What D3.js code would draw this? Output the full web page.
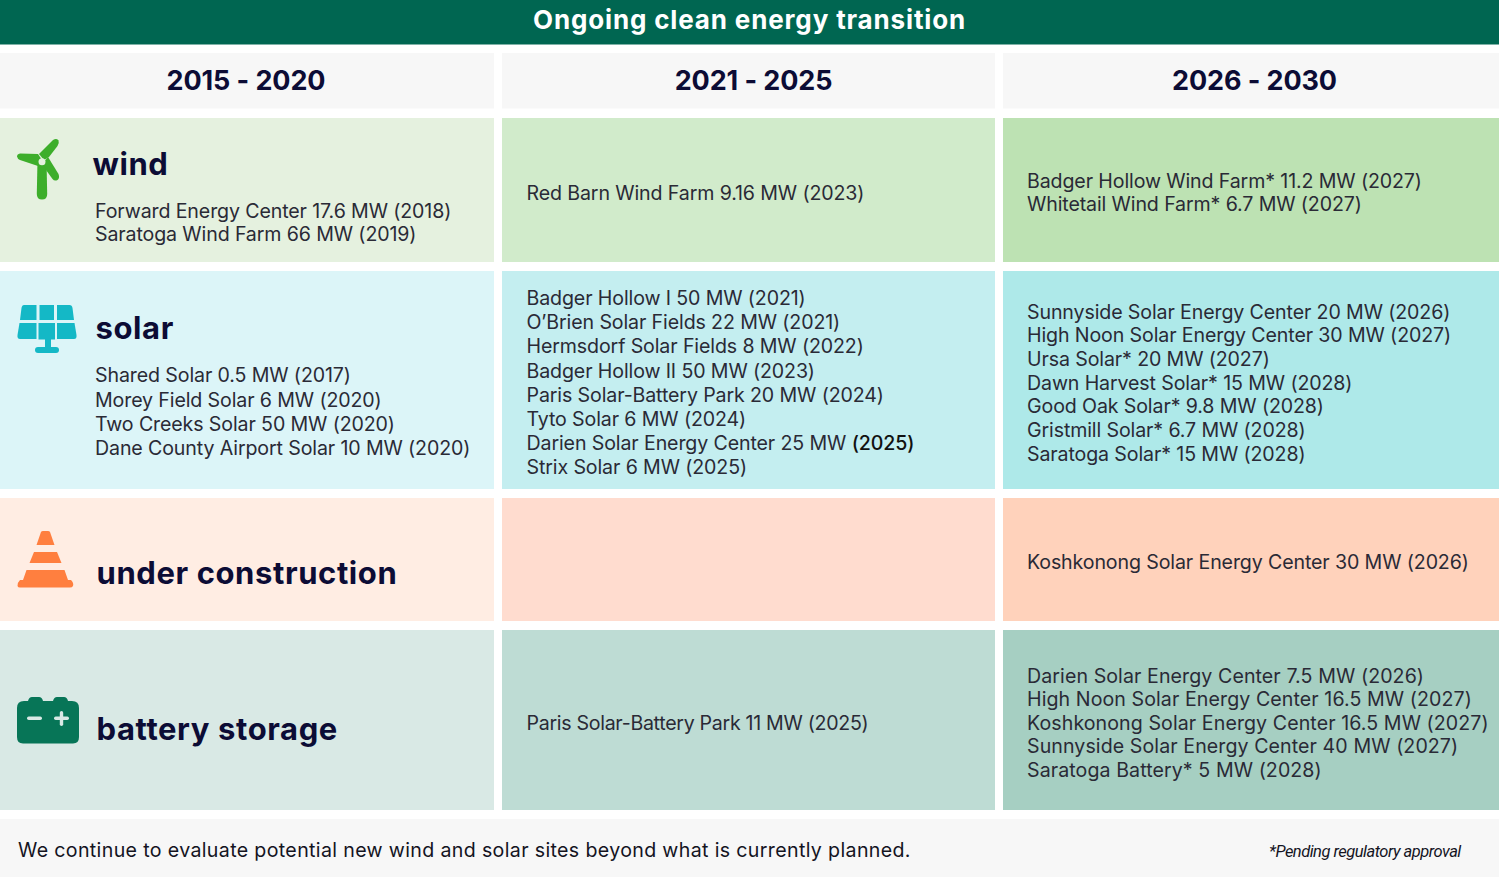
<!DOCTYPE html>
<html><head><meta charset="utf-8">
<script src="https://cdn.jsdelivr.net/npm/d3@7"></script>
<style>html,body{margin:0;padding:0;background:#fff}svg{display:block}text{font-family:Inter,"Noto Sans",sans-serif}</style>
</head><body><svg id="c" width="1499" height="877"></svg>
<script>
const title = "Ongoing clean energy transition";
const periods = ["2015 - 2020","2021 - 2025","2026 - 2030"];
const categories = ["wind","solar","under construction","battery storage"];
const windProjects = [
  ["Forward Energy Center 17.6 MW (2018)","Saratoga Wind Farm 66 MW (2019)"],
  ["Red Barn Wind Farm 9.16 MW (2023)"],
  ["Badger Hollow Wind Farm* 11.2 MW (2027)","Whitetail Wind Farm* 6.7 MW (2027)"]];
const solarProjects = [
  ["Shared Solar 0.5 MW (2017)","Morey Field Solar 6 MW (2020)","Two Creeks Solar 50 MW (2020)","Dane County Airport Solar 10 MW (2020)"],
  ["Badger Hollow I 50 MW (2021)","O’Brien Solar Fields 22 MW (2021)","Hermsdorf Solar Fields 8 MW (2022)","Badger Hollow II 50 MW (2023)","Paris Solar-Battery Park 20 MW (2024)","Tyto Solar 6 MW (2024)","Darien Solar Energy Center 25 MW (2025)","Strix Solar 6 MW (2025)"],
  ["Sunnyside Solar Energy Center 20 MW (2026)","High Noon Solar Energy Center 30 MW (2027)","Ursa Solar* 20 MW (2027)","Dawn Harvest Solar* 15 MW (2028)","Good Oak Solar* 9.8 MW (2028)","Gristmill Solar* 6.7 MW (2028)","Saratoga Solar* 15 MW (2028)"]];
const constructionProjects = [[],[],["Koshkonong Solar Energy Center 30 MW (2026)"]];
const batteryProjects = [[],["Paris Solar-Battery Park 11 MW (2025)"],
  ["Darien Solar Energy Center 7.5 MW (2026)","High Noon Solar Energy Center 16.5 MW (2027)","Koshkonong Solar Energy Center 16.5 MW (2027)","Sunnyside Solar Energy Center 40 MW (2027)","Saratoga Battery* 5 MW (2028)"]];
const footNote = "We continue to evaluate potential new wind and solar sites beyond what is currently planned.";
const pendingNote = "*Pending regulatory approval";
const projects = [windProjects, solarProjects, constructionProjects, batteryProjects];

const W=1499,H=877;
const svg=d3.select("#c");
const colEdges=[[0,494],[502,995],[1003,1499]];
const rowEdges=[[118,262],[271,489],[498,621],[630,810]];
const xL=d3.scaleOrdinal(periods,colEdges.map(d=>d[0]));
const xR=d3.scaleOrdinal(periods,colEdges.map(d=>d[1]));
const yT=d3.scaleOrdinal(categories,rowEdges.map(d=>d[0]));
const yB=d3.scaleOrdinal(categories,rowEdges.map(d=>d[1]));
const fills=d3.scaleOrdinal(categories,[["#e5f1df","#d1ebcb","#bde2b3"],["#dcf5f8","#c4eef0","#aee9e9"],["#ffede3","#ffdccf","#ffd2bb"],["#d9e9e5","#bedcd4","#a6cfc2"]]);
const INK="#0c0c35",BODY="#2a2a36";
const BODY_SIZE=19.6,BODY_LS=-0.12;
const colLine=[24.3,24.1,23.7];
const headCentre=[246,753.5,1254.5];

svg.append("rect").attr("width",W).attr("height",44.5).attr("fill","#006651");
svg.append("text").attr("x",749.5).attr("y",29).attr("text-anchor","middle").attr("fill","#fff")
  .attr("font-size",26).attr("font-weight",700).attr("letter-spacing",0.85).text(title);

svg.selectAll(".hd").data(periods).join("rect").attr("class","hd")
  .attr("x",d=>xL(d)).attr("width",d=>xR(d)-xL(d)).attr("y",53).attr("height",55.5).attr("fill","#f7f7f7");
svg.selectAll(".hdt").data(periods).join("text").attr("class","hdt")
  .attr("x",(d,i)=>headCentre[i]).attr("y",90).attr("text-anchor","middle")
  .attr("font-size",27).attr("font-weight",700).attr("letter-spacing",-0.1).attr("fill",INK).text(d=>d);

const cells=categories.flatMap((c,i)=>periods.map((p,j)=>({c,p,j,lines:projects[i][j]})));
svg.selectAll(".cell").data(cells).join("rect").attr("class","cell")
  .attr("x",d=>xL(d.p)).attr("width",d=>xR(d.p)-xL(d.p))
  .attr("y",d=>yT(d.c)).attr("height",d=>yB(d.c)-yT(d.c)).attr("fill",d=>fills(d.c)[d.j]);

function body(sel){return sel.attr("font-size",BODY_SIZE).attr("letter-spacing",BODY_LS).attr("fill",BODY);}
cells.filter(d=>d.j>0&&d.lines.length).forEach(d=>{
  const step=d.c==="battery storage"?23.5:colLine[d.j];
  const cy=(yT(d.c)+yB(d.c))/2+2.5;
  const top=cy-(d.lines.length-1)*step/2;
  const x=xL(d.p)+(d.j===1?24.5:24);
  const g=body(svg.append("g").selectAll("text").data(d.lines).join("text")
    .attr("x",x).attr("y",(l,i)=>top+i*step+7.1));
  if(d.c==="battery storage") g.attr("letter-spacing",d.j===2?0.08:-0.3);
  g.each(function(l){
      const m=l.match(/^(Darien Solar Energy Center 25 MW )(\(2025\))$/);
      if(m){const t=d3.select(this);t.append("tspan").text(m[1]);t.append("tspan").attr("font-weight",500).attr("fill","#111").text(m[2]);}
      else d3.select(this).text(l);
    });
});
const firstColTop=d3.scaleOrdinal(categories,[211,375.3,0,0]);
cells.filter(d=>d.j===0&&d.lines.length).forEach(d=>{
  body(svg.append("g").selectAll("text").data(d.lines).join("text")
    .attr("x",95).attr("y",(l,i)=>firstColTop(d.c)+i*(d.c==="wind"?23:24.3)+7).text(l=>l));
});
const catX=[92.5,95.5,96.5,96.5],catY=[174.5,339,583.5,739.5];
svg.selectAll(".cat").data(categories).join("text").attr("class","cat")
  .attr("x",(d,i)=>catX[i]).attr("y",(d,i)=>catY[i]).attr("font-size",31).attr("font-weight",700).attr("letter-spacing",0.6).attr("fill",INK).text(d=>d);

const ic=svg.append("g");
const G="#3dae2b";
ic.append("path").attr("fill",G).attr("d","M37.5 160 L46.5 160 L47.2 194 Q47.2 199.5 42 199.5 Q36.8 199.5 36.8 194 Z");
ic.append("path").attr("fill",G).attr("d","M39 154 L53 140 Q56.5 138 58.5 140.5 Q59.5 143 57.5 146 L49 157 L44 160 Z");
ic.append("path").attr("fill",G).attr("d","M38 154 L20 153.5 Q17 154 17 156.5 Q17.5 159 20 160 L38 166 L42 160 Z");
ic.append("path").attr("fill",G).attr("d","M48 157 L58.5 174 Q60 178 57.5 180 Q54.5 181.5 52.5 179 L46 170 L43 163 Z");
ic.append("circle").attr("cx",42).attr("cy",161.7).attr("r",3.5).attr("fill",fills("wind")[0]);
const S="#14b8c6";
ic.append("path").attr("fill",S).attr("d","M24 305 H36.5 V320 H20 L21.5 308 Q22 305 24 305 Z");
ic.append("rect").attr("fill",S).attr("x",39.5).attr("y",305).attr("width",14.5).attr("height",15);
ic.append("path").attr("fill",S).attr("d","M57 305 H69.5 Q72 305 72.5 308 L74 320 H57 Z");
ic.append("path").attr("fill",S).attr("d","M19.5 323 H36.5 V339 H20 Q17 339 17.5 335 Z");
ic.append("path").attr("fill",S).attr("d","M38.5 323 H55 V339.5 H51 V347 H45 V339.5 H38.5 Z");
ic.append("path").attr("fill",S).attr("d","M57 323 H74.5 L76.5 335 Q77 339 74 339 H57 Z");
ic.append("rect").attr("fill",S).attr("x",35).attr("y",347).attr("width",24).attr("height",6).attr("rx",3);
const O="#ff7f3f";
ic.append("path").attr("fill",O).attr("d","M41 532 Q41.5 531 43 531 H48 Q49.5 531 50 532 L54.5 545 H36.5 Z");
ic.append("path").attr("fill",O).attr("d","M34 552 H57 L61.5 563 H29.5 Z");
ic.append("path").attr("fill",O).attr("d","M26.5 570 H64.5 L68 580 H71 Q74 583 73 586 Q72 587.5 70 587.5 H20 Q18 587.5 17.5 586 Q17 583 20 580 H23 Z");
const B="#077557";
ic.append("path").attr("fill",B).attr("d","M24 701 H28 Q29 697 32 697 H39 Q42 697 43 701 H53 Q54 697 57 697 H64 Q67 697 68 701 H72 Q79 701 79 708 V737 Q79 743.5 73 743.5 H23 Q17 743.5 17 737 V708 Q17 701 24 701 Z");
ic.append("rect").attr("fill",fills("battery storage")[0]).attr("x",27).attr("y",716.5).attr("width",15).attr("height",3.4).attr("rx",1.7);
ic.append("rect").attr("fill",fills("battery storage")[0]).attr("x",54).attr("y",716.5).attr("width",15).attr("height",3.4).attr("rx",1.7);
ic.append("rect").attr("fill",fills("battery storage")[0]).attr("x",59.8).attr("y",711).attr("width",3.4).attr("height",15).attr("rx",1.7);

svg.append("rect").attr("y",819).attr("width",W).attr("height",58).attr("fill","#f7f7f7");
svg.append("text").attr("x",18).attr("y",857).attr("font-size",BODY_SIZE).attr("letter-spacing",0.35).attr("fill","#14141f").text(footNote);
svg.append("text").attr("x",1269).attr("y",857).attr("font-size",16.5).attr("font-style","italic").attr("letter-spacing",-0.5).attr("fill","#14141f").style("font-family","Roboto").text(pendingNote);
</script></body></html>
